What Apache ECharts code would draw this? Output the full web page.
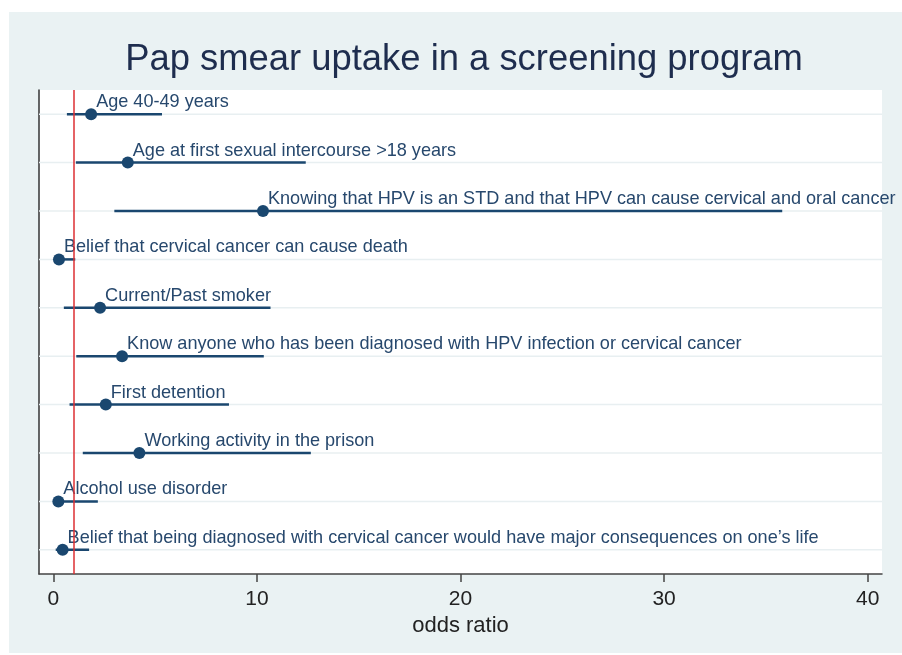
<!DOCTYPE html>
<html>
<head>
<meta charset="utf-8">
<script src="https://cdn.jsdelivr.net/npm/echarts@6/dist/echarts.min.js"></script>
<style>
html,body{margin:0;padding:0;background:#ffffff;}
#chart{width:902px;height:655px;}
</style>
</head>
<body>
<div id="chart"></div>
<script>
const titleText = 'Pap smear uptake in a screening program';
const xAxisName = 'odds ratio';
const labels = [
  'Age 40-49 years',
  'Age at first sexual intercourse >18 years',
  'Knowing that HPV is an STD and that HPV can cause cervical and oral cancer',
  'Belief that cervical cancer can cause death',
  'Current/Past smoker',
  'Know anyone who has been diagnosed with HPV infection or cervical cancer',
  'First detention',
  'Working activity in the prison',
  'Alcohol use disorder',
  'Belief that being diagnosed with cervical cancer would have major consequences on one\u2019s life'
];
const oddsRatio = [1.86, 3.66, 10.3, 0.28, 2.3, 3.38, 2.58, 4.23, 0.25, 0.46];
const ciLow     = [0.67, 1.11, 3.0, 0.07, 0.52, 1.13, 0.8, 1.45, 0.03, 0.12];
const ciHigh    = [5.34, 12.4, 35.8, 1.08, 10.67, 10.34, 8.63, 12.65, 2.19, 1.76];
const xTicks = [0, 10, 20, 30, 40];
const refValue = 1;

const rows = labels.map((_, i) => i + 1);
const X_MIN = -0.7, X_MAX = 40.7;

const chart = echarts.init(document.getElementById('chart'));
const navy = '#1a476f';
const font = 'Liberation Sans, Arial, sans-serif';

chart.setOption({
  animation: false,
  backgroundColor: '#ffffff',
  graphic: [{
    type: 'rect', z: -10, silent: true,
    shape: {x: 9, y: 12, width: 893, height: 641},
    style: {fill: '#eaf2f3'}
  }],
  title: {
    text: titleText,
    left: 459, top: 37, textAlign: 'center',
    textStyle: {fontFamily: font, fontSize: 36.4, fontWeight: 'normal', color: '#1e2d4e'}
  },
  grid: {
    left: 39, right: 20, top: 90, bottom: 81,
    show: true, backgroundColor: '#ffffff', borderWidth: 0
  },
  xAxis: {
    type: 'value', min: X_MIN, max: X_MAX,
    name: xAxisName, nameLocation: 'middle', nameGap: 40,
    nameTextStyle: {fontFamily: font, fontSize: 22, color: '#222'},
    axisLine: {show: true, onZero: false, lineStyle: {color: '#444', width: 1.5}},
    axisTick: {show: true, customValues: xTicks, length: 8, lineStyle: {color: '#444', width: 1.5}},
    axisLabel: {customValues: xTicks, margin: 15, fontFamily: font, fontSize: 21, color: '#222'},
    splitLine: {show: false}
  },
  yAxis: {
    type: 'value', min: 0.5, max: 10.5, inverse: true,
    axisLine: {show: true, onZero: false, lineStyle: {color: '#333', width: 1.5}},
    axisTick: {show: false}, axisLabel: {show: false}, splitLine: {show: false}
  },
  series: [
    {
      type: 'custom', name: 'grid', silent: true, z: 1,
      data: rows.map(r => [r]),
      renderItem: function (params, api) {
        const y = api.value(0);
        const p1 = api.coord([X_MIN, y]);
        const p2 = api.coord([X_MAX, y]);
        return {type: 'line', shape: {x1: p1[0], y1: p1[1], x2: p2[0], y2: p2[1]},
          style: {stroke: '#e8eff1', lineWidth: 1.5}};
      }
    },
    {
      type: 'line', name: 'ref', silent: true, z: 2, data: [],
      markLine: {
        silent: true, symbol: 'none', label: {show: false},
        lineStyle: {color: '#dc2f33', width: 1.5, type: 'solid'},
        data: [{xAxis: refValue}]
      }
    },
    {
      type: 'custom', name: 'ci', silent: true, z: 3,
      data: rows.map((r, i) => [ciLow[i], ciHigh[i], r]),
      renderItem: function (params, api) {
        const y = api.value(2);
        const p1 = api.coord([api.value(0), y]);
        const p2 = api.coord([api.value(1), y]);
        return {type: 'line', shape: {x1: p1[0], y1: p1[1], x2: p2[0], y2: p2[1]},
          style: {stroke: navy, lineWidth: 2.5}};
      }
    },
    {
      type: 'scatter', name: 'or', z: 4,
      symbol: 'circle', symbolSize: 12,
      itemStyle: {color: navy, opacity: 1},
      data: rows.map((r, i) => ({value: [oddsRatio[i], r], name: labels[i]})),
      label: {
        show: true, position: 'right', distance: 0,
        formatter: p => p.name,
        fontFamily: font, fontSize: 18.1, color: '#27486d'
      },
      labelLayout: {hideOverlap: false, dx: -1, dy: -12}
    }
  ]
});
</script>
</body>
</html>
